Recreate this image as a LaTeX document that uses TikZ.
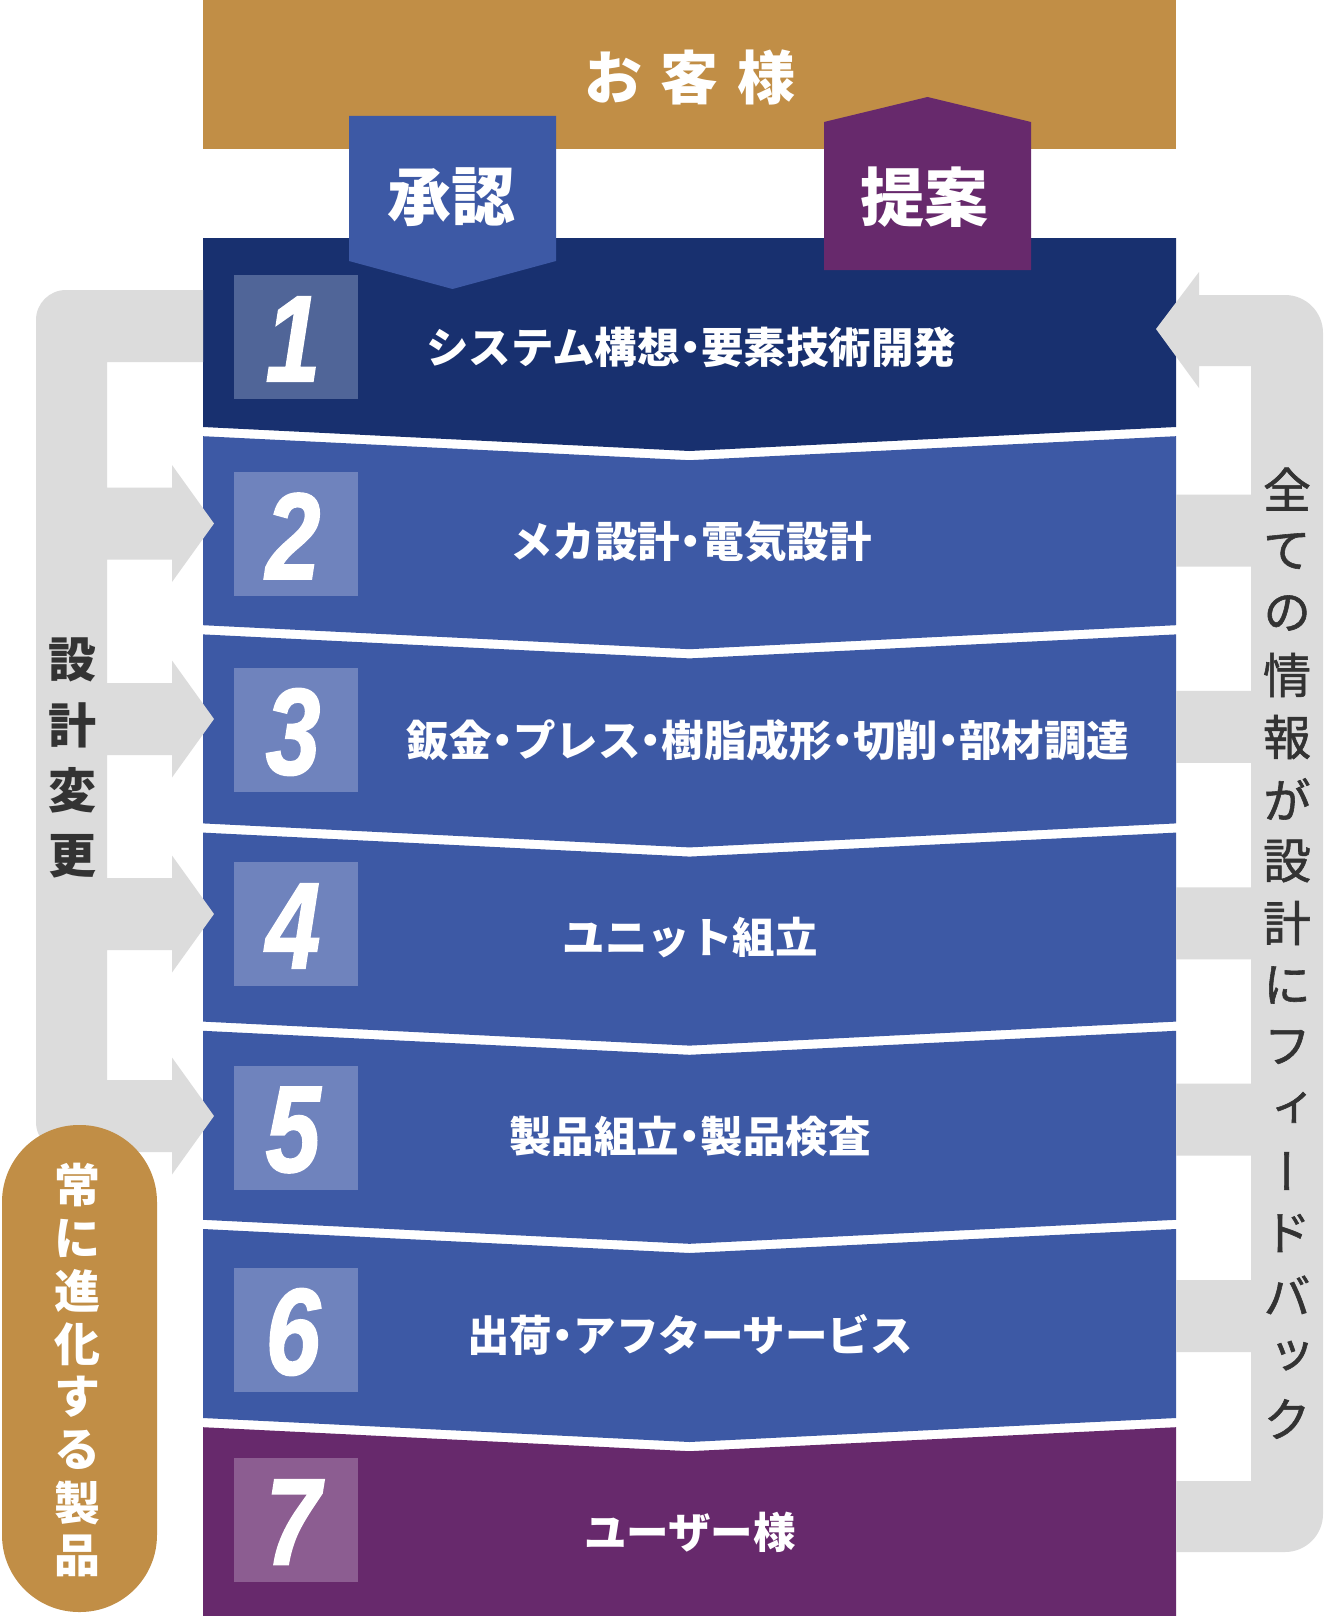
\documentclass[tikz,border=0pt]{standalone}
\usepackage{fontspec}
\newfontfamily\jp{Noto Sans CJK JP}
\newfontfamily\jpv[RawFeature=+vert,FakeBold=1.2]{Noto Sans CJK JP}
\newfontfamily\numfont[FakeBold=1.5]{Liberation Sans}
\newcommand{\nd}{\hspace{-0.25em}・\hspace{-0.25em}}
\definecolor{goldc}{HTML}{C18E46}
\definecolor{navyc}{HTML}{18306F}
\definecolor{bluec}{HTML}{3D59A5}
\definecolor{purpc}{HTML}{67296C}
\definecolor{boxnavy}{HTML}{506598}
\definecolor{boxblue}{HTML}{6F83BD}
\definecolor{boxpurp}{HTML}{8C5D91}
\definecolor{grayc}{HTML}{DCDCDC}
\definecolor{txtgray}{HTML}{333333}
\begin{document}
\begin{tikzpicture}[x=1pt,y=-1pt,
  bandtxt/.style={text=white, inner sep=0pt, font=\jp\bfseries\fontsize{42.5}{42.5}\selectfont},
  numtxt/.style={text=white, inner sep=0pt, font=\numfont\bfseries\itshape\fontsize{123}{123}\selectfont},
  tagtxt/.style={text=white, inner sep=0pt, font=\jp\bfseries\fontsize{64}{64}\selectfont},
  headtxt/.style={text=white, inner sep=0pt, font=\jp\bfseries\fontsize{58}{58}\selectfont},
  lefttxt/.style={text=txtgray, inner sep=0pt, font=\jp\bfseries\fontsize{48}{48}\selectfont},
  pilltxt/.style={text=white, inner sep=0pt, font=\jp\bfseries\fontsize{46}{46}\selectfont},
  righttxt/.style={text=txtgray, inner sep=0pt, font=\jpv\fontsize{48}{48}\selectfont}]
\useasboundingbox (0,0) rectangle (1323,1616);
\fill[white] (0,0) rectangle (1323,1616);

% customer bar
\fill[goldc] (203,0) rectangle (1176,149);

% bands
\fill[navyc] (203,238) -- (1176,238) -- (1176,427) -- (689.5,451) -- (203,427) -- cycle;
\foreach \k in {2,...,6}{
  \pgfmathsetmacro{\T}{238+198.2*(\k-1)}
  \pgfmathsetmacro{\B}{\T+189}
  \fill[bluec] (203,\T) -- (689.5,\T+24) -- (1176,\T) -- (1176,\B) -- (689.5,\B+24) -- (203,\B) -- cycle;
}
\fill[purpc] (203,1427.2) -- (689.5,1451.2) -- (1176,1427.2) -- (1176,1616) -- (203,1616) -- cycle;

% number boxes
\fill[boxnavy] (234,275) rectangle (358,399);
\foreach \c in {534,730,924,1128,1330}{
  \fill[boxblue] (234,\c-62) rectangle (358,\c+62);
}
\fill[boxpurp] (234,1458) rectangle (358,1582);

% left gray structure (design change)
\fill[grayc] (203,290) -- (66,290) arc[start angle=270, end angle=180, radius=30]
  -- (36,1122) arc[start angle=180, end angle=90, radius=30]
  -- (172,1152) -- (172,1174.5) -- (214,1116) -- (172,1057.5) -- (172,1080) -- (107,1080)
  -- (107,950) -- (172,950) -- (172,972.5) -- (214,914) -- (172,855.5) -- (172,878) -- (107,878)
  -- (107,755) -- (172,755) -- (172,777.5) -- (214,719) -- (172,660.5) -- (172,683) -- (107,683)
  -- (107,559.5) -- (172,559.5) -- (172,582) -- (214,523.5) -- (172,465) -- (172,487.5) -- (107,487.5)
  -- (107,362) -- (203,362) -- cycle;

% right gray structure (feedback)
\fill[grayc] (1156,329) -- (1199,272) -- (1199,295) -- (1285,295)
  arc[start angle=-90, end angle=0, radius=38]
  -- (1323,1514) arc[start angle=0, end angle=90, radius=38]
  -- (1176,1552) -- (1176,1481) -- (1251,1481)
  -- (1251,1352) -- (1176,1352) -- (1176,1280) -- (1251,1280)
  -- (1251,1155.7) -- (1176,1155.7) -- (1176,1083.7) -- (1251,1083.7)
  -- (1251,959.3) -- (1176,959.3) -- (1176,887.3) -- (1251,887.3)
  -- (1251,762.9) -- (1176,762.9) -- (1176,690.9) -- (1251,690.9)
  -- (1251,566.5) -- (1176,566.5) -- (1176,494.5) -- (1251,494.5)
  -- (1251,366) -- (1199,366) -- (1199,388) -- cycle;

% approval / proposal tags
\fill[bluec] (349,116) -- (556,116) -- (556,261) -- (452.5,289) -- (349,261) -- cycle;
\fill[purpc] (824,270) -- (824,122) -- (927.5,97) -- (1031,122) -- (1031,270) -- cycle;

% pill
\fill[goldc, rounded corners=77] (2,1125) rectangle (157,1612);

% texts
\node[headtxt] (cust) at (690,77) {お\hspace{19pt}客\hspace{19pt}様};
\node[tagtxt] (appr) at (451.5,197) {承認};
\node[tagtxt] (prop) at (924.5,197) {提案};

\foreach \k/\by/\tx/\ty/\txt in {
  1/337/691/347/システム構想\nd 要素技術開発,
  2/534/691/542/メカ設計\nd 電気設計,
  4/924/690/938/ユニット組立,
  5/1128/690/1136/製品組立\nd 製品検査,
  6/1330/690/1335/出荷\nd アフターサービス,
  7/1520/690/1532/ユーザー様}{
  \node[numtxt] (num\k) at (293,{\by+2}) {\scalebox{0.8}[1]{\k}};
  \node[bandtxt] (step\k) at (\tx,\ty) {\txt};
}
\node[numtxt] (num3) at (293,732) {\scalebox{0.8}[1]{3}};
\node[bandtxt] (step3) at (768,740) {鈑金\nd プレス\nd 樹脂成形\nd 切削\nd 部材調達};

\foreach \c [count=\i] in {設,計,変,更}{
  \node[lefttxt] (dc\i) at (72,{660+65.3*(\i-1)}) {\c};
}
\foreach \c [count=\i] in {常,に,進,化,す,る,製,品}{
  \node[pilltxt] (ev\i) at (77,{1185+53*(\i-1)}) {\c};
}
\foreach \c [count=\i] in {全,て,の,情,報,が,設,計,に,フ,ィ,ー,ド,バ,ッ,ク}{
  \node[righttxt] (fb\i) at (1287,{489+62*(\i-1)}) {\c};
}
\end{tikzpicture}
\end{document}
